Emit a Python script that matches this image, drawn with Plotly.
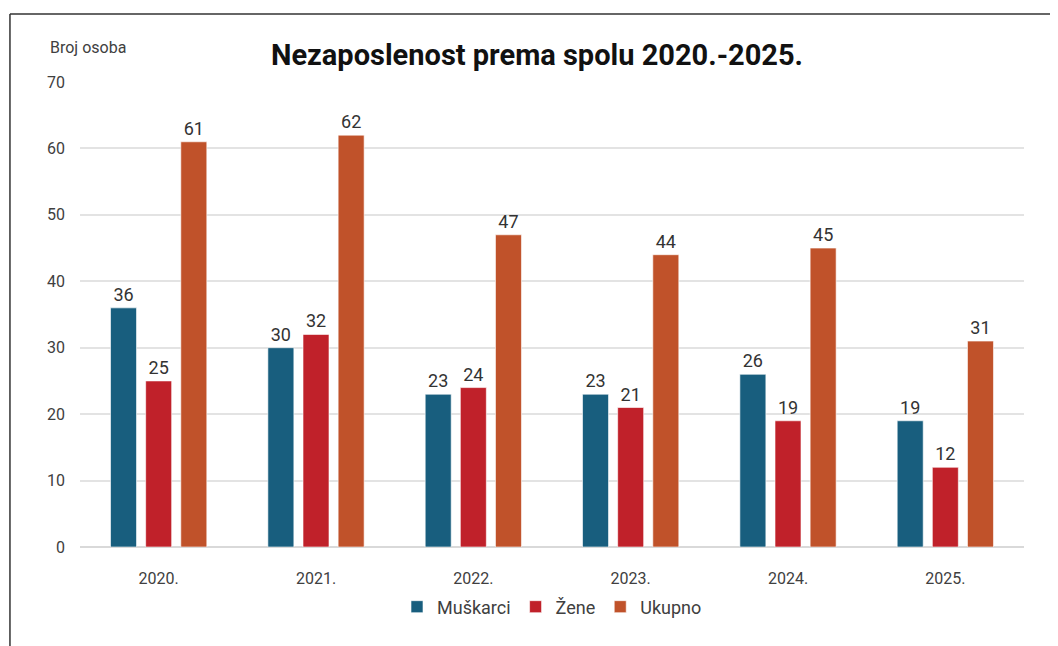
import plotly.graph_objects as go

years = ["2020.", "2021.", "2022.", "2023.", "2024.", "2025."]
muskarci = [36, 30, 23, 23, 26, 19]
zene = [25, 32, 24, 21, 19, 12]
ukupno = [61, 62, 47, 44, 45, 31]

series = [("Muškarci", muskarci, "#185E7E"),
          ("Žene", zene, "#C0212A"),
          ("Ukupno", ukupno, "#C0522A")]

fig = go.Figure()
for name, vals, col in series:
    fig.add_trace(go.Bar(x=years, y=vals, name=name, marker_color=col,
                         marker_line=dict(color="rgba(255,255,255,0.6)", width=1),
                         text=vals, textposition="outside", cliponaxis=False,
                         textfont=dict(size=18, color="#333333")))

# frame of the original picture (top and left edges only)
fig.add_shape(type="line", xref="paper", yref="paper", x0=-0.0742, x1=1.06, y0=1.146, y1=1.146,
              line=dict(color="#333333", width=1.5))
fig.add_shape(type="line", xref="paper", yref="paper", x0=-0.0742, x1=-0.0742, y0=1.146, y1=-0.25,
              line=dict(color="#333333", width=1.5))

fig.add_annotation(text="Broj osoba", xref="paper", yref="paper", x=0.0085, y=1.075,
                   xanchor="center", yanchor="middle", showarrow=False,
                   font=dict(size=16, color="#404040"))

fig.update_layout(
    width=1058, height=646,
    margin=dict(l=72, r=42, t=74, b=107),
    title=dict(text="<b>Nezaposlenost prema spolu 2020.-2025.</b>", x=0.5, xanchor="center",
               y=0.927, yanchor="middle", font=dict(size=29, color="#111111")),
    paper_bgcolor="white", plot_bgcolor="white",
    font=dict(family="Roboto, Liberation Sans, sans-serif", color="#404040", size=15),
    barmode="group", bargap=0.33, bargroupgap=0.26,
    xaxis=dict(showgrid=False, showline=False, ticks="", ticklabelstandoff=20,
               tickfont=dict(size=16, color="#404040")),
    yaxis=dict(range=[0, 70], dtick=10, gridcolor="#E3E3E3", gridwidth=1.5,
               zeroline=True, zerolinecolor="#D9D9D9", zerolinewidth=1.5,
               ticklabelstandoff=14, tickfont=dict(size=16, color="#404040")),
    legend=dict(orientation="h", x=0.5, xanchor="center", y=-0.129, yanchor="middle",
                font=dict(size=18, color="#404040"), itemwidth=30),
)
fig.write_html("out.html")
